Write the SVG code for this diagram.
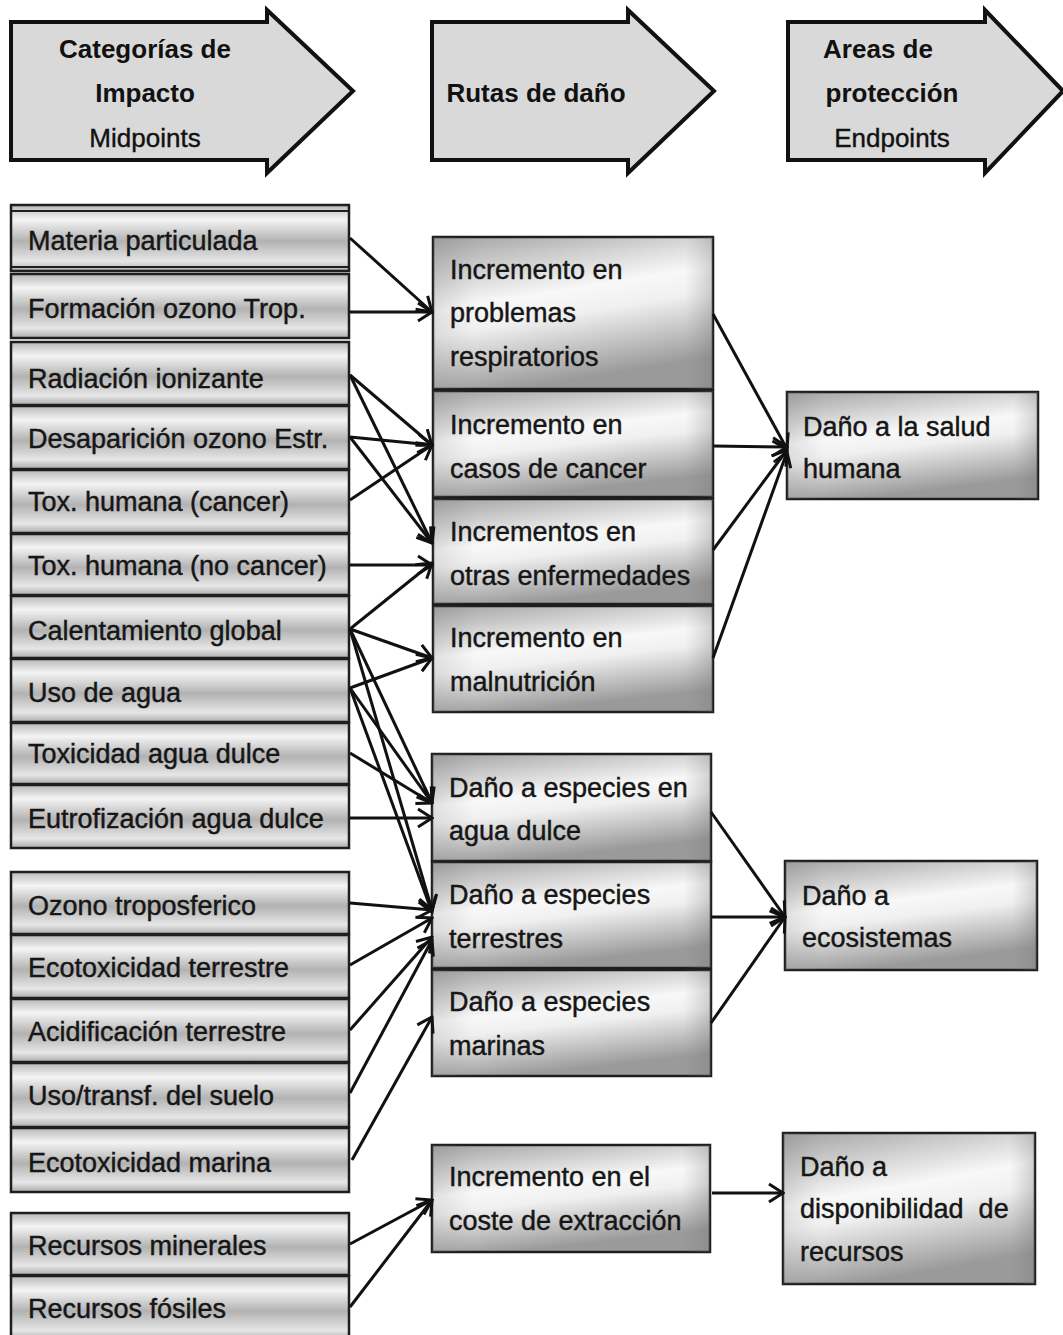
<svg xmlns="http://www.w3.org/2000/svg" width="1063" height="1335" viewBox="0 0 1063 1335">
<defs>
<linearGradient id="gL" x1="0" y1="0" x2="0" y2="1">
<stop offset="0" stop-color="#b8b8b8"/>
<stop offset="0.22" stop-color="#f4f4f4"/>
<stop offset="0.55" stop-color="#b2b2b2"/>
<stop offset="0.85" stop-color="#e6e6e6"/>
<stop offset="1" stop-color="#acacac"/>
</linearGradient>
<linearGradient id="gM" x1="0" y1="0" x2="0.3" y2="1">
<stop offset="0" stop-color="#a2a2a2"/>
<stop offset="0.45" stop-color="#f8f8f8"/>
<stop offset="0.6" stop-color="#f0f0f0"/>
<stop offset="1" stop-color="#9a9a9a"/>
</linearGradient>
<linearGradient id="gEdge" x1="0" y1="0" x2="1" y2="0">
<stop offset="0" stop-color="#808080" stop-opacity="0.2"/>
<stop offset="0.15" stop-color="#808080" stop-opacity="0"/>
<stop offset="0.9" stop-color="#808080" stop-opacity="0"/>
<stop offset="1" stop-color="#707070" stop-opacity="0.3"/>
</linearGradient>
<marker id="ah" markerUnits="userSpaceOnUse" viewBox="0 0 18 22" refX="16" refY="11" markerWidth="18" markerHeight="22" orient="auto">
<path d="M2,2 L16,11 L2,20" fill="none" stroke="#111" stroke-width="3" stroke-linejoin="miter"/>
</marker>
</defs>
<style>
.hd{fill:#d9d9d9;stroke:#111;stroke-width:4;stroke-linejoin:miter}
.bl{fill:url(#gL);stroke:#1e1e1e;stroke-width:2.5}
.bm{fill:url(#gM);stroke:#1e1e1e;stroke-width:2.5}
.ed{fill:url(#gEdge);stroke:none}
.t{font-family:"Liberation Sans",Arial,sans-serif;font-size:27px;fill:#161616;stroke:#161616;stroke-width:0.45}
.tb{font-family:"Liberation Sans",Arial,sans-serif;font-size:26px;font-weight:bold;fill:#111;text-anchor:middle}
.th{font-family:"Liberation Sans",Arial,sans-serif;font-size:26px;fill:#111;stroke:#111;stroke-width:0.4;text-anchor:middle}
.c{fill:none;stroke:#111;stroke-width:3;marker-end:url(#ah)}
</style>
<rect width="1063" height="1335" fill="#ffffff"/>

<g id="head1">
<polygon class="hd" points="11,22 267,22 267,10 353,91 267,173 267,160 11,160"/>
<text class="tb" x="145" y="58">Categorías de</text>
<text class="tb" x="145" y="102">Impacto</text>
<text class="th" x="145" y="147">Midpoints</text>
</g>
<g id="head2">
<polygon class="hd" points="432,22 628,22 628,10 714,91 628,173 628,160 432,160"/>
<text class="tb" x="536" y="102">Rutas de daño</text>
</g>
<g id="head3">
<polygon class="hd" points="788,22 985,22 985,10 1063,91 985,173 985,160 788,160"/>
<text class="tb" x="878" y="58">Areas de</text>
<text class="tb" x="892" y="102">protección</text>
<text class="th" x="892" y="147">Endpoints</text>
</g>

<g id="L1"><rect class="bl" x="11" y="205" width="338" height="66"/><line x1="11" y1="211" x2="349" y2="211" stroke="#1e1e1e" stroke-width="2"/><line x1="11" y1="267" x2="349" y2="267" stroke="#1e1e1e" stroke-width="2"/><text class="t" x="28" y="250">Materia particulada</text></g>
<g id="L2"><rect class="bl" x="11" y="274" width="338" height="64"/><text class="t" x="28" y="318">Formación ozono Trop.</text></g>
<g id="L3"><rect class="bl" x="11" y="342" width="338" height="63"/><text class="t" x="28" y="388">Radiación ionizante</text></g>
<g id="L4"><rect class="bl" x="11" y="406" width="338" height="63"/><text class="t" x="28" y="448">Desaparición ozono Estr.</text></g>
<g id="L5"><rect class="bl" x="11" y="470" width="338" height="63"/><text class="t" x="28" y="511">Tox. humana (cancer)</text></g>
<g id="L6"><rect class="bl" x="11" y="534" width="338" height="61"/><text class="t" x="28" y="575">Tox. humana (no cancer)</text></g>
<g id="L7"><rect class="bl" x="11" y="596" width="338" height="62"/><text class="t" x="28" y="640">Calentamiento global</text></g>
<g id="L8"><rect class="bl" x="11" y="659" width="338" height="63"/><text class="t" x="28" y="702">Uso de agua</text></g>
<g id="L9"><rect class="bl" x="11" y="723" width="338" height="61"/><text class="t" x="28" y="763">Toxicidad agua dulce</text></g>
<g id="L10"><rect class="bl" x="11" y="785" width="338" height="63"/><text class="t" x="28" y="828">Eutrofización agua dulce</text></g>
<g id="L11"><rect class="bl" x="11" y="872" width="338" height="62"/><text class="t" x="28" y="915">Ozono troposferico</text></g>
<g id="L12"><rect class="bl" x="11" y="935" width="338" height="63"/><text class="t" x="28" y="977">Ecotoxicidad terrestre</text></g>
<g id="L13"><rect class="bl" x="11" y="999" width="338" height="63"/><text class="t" x="28" y="1041">Acidificación terrestre</text></g>
<g id="L14"><rect class="bl" x="11" y="1063" width="338" height="64"/><text class="t" x="28" y="1105">Uso/transf. del suelo</text></g>
<g id="L15"><rect class="bl" x="11" y="1128" width="338" height="64"/><text class="t" x="28" y="1172">Ecotoxicidad marina</text></g>
<g id="L16"><rect class="bl" x="11" y="1213" width="338" height="62"/><text class="t" x="28" y="1255">Recursos minerales</text></g>
<g id="L17"><rect class="bl" x="11" y="1276" width="338" height="64"/><text class="t" x="28" y="1318">Recursos fósiles</text></g>

<g id="M1"><rect class="bm" x="433" y="237" width="280" height="152"/><rect class="ed" x="433" y="237" width="280" height="152"/><text class="t" x="450" y="279">Incremento en</text><text class="t" x="450" y="322">problemas</text><text class="t" x="450" y="366">respiratorios</text></g>
<g id="M2"><rect class="bm" x="433" y="391" width="280" height="106"/><rect class="ed" x="433" y="391" width="280" height="106"/><text class="t" x="450" y="434">Incremento en</text><text class="t" x="450" y="478">casos de cancer</text></g>
<g id="M3"><rect class="bm" x="433" y="499" width="280" height="105"/><rect class="ed" x="433" y="499" width="280" height="105"/><text class="t" x="450" y="541">Incrementos en</text><text class="t" x="450" y="585">otras enfermedades</text></g>
<g id="M4"><rect class="bm" x="433" y="606" width="280" height="106"/><rect class="ed" x="433" y="606" width="280" height="106"/><text class="t" x="450" y="647">Incremento en</text><text class="t" x="450" y="691">malnutrición</text></g>
<g id="M5"><rect class="bm" x="432" y="754" width="279" height="107"/><rect class="ed" x="432" y="754" width="279" height="107"/><text class="t" x="449" y="797">Daño a especies en</text><text class="t" x="449" y="840">agua dulce</text></g>
<g id="M6"><rect class="bm" x="432" y="862" width="279" height="106"/><rect class="ed" x="432" y="862" width="279" height="106"/><text class="t" x="449" y="904">Daño a especies</text><text class="t" x="449" y="948">terrestres</text></g>
<g id="M7"><rect class="bm" x="432" y="970" width="279" height="106"/><rect class="ed" x="432" y="970" width="279" height="106"/><text class="t" x="449" y="1011">Daño a especies</text><text class="t" x="449" y="1055">marinas</text></g>
<g id="M8"><rect class="bm" x="432" y="1145" width="278" height="107"/><rect class="ed" x="432" y="1145" width="278" height="107"/><text class="t" x="449" y="1186">Incremento en el</text><text class="t" x="449" y="1230">coste de extracción</text></g>

<g id="R1"><rect class="bm" x="787" y="392" width="251" height="107"/><rect class="ed" x="787" y="392" width="251" height="107"/><text class="t" x="803" y="436">Daño a la salud</text><text class="t" x="803" y="478">humana</text></g>
<g id="R2"><rect class="bm" x="785" y="861" width="252" height="109"/><rect class="ed" x="785" y="861" width="252" height="109"/><text class="t" x="802" y="905">Daño a</text><text class="t" x="802" y="947">ecosistemas</text></g>
<g id="R3"><rect class="bm" x="783" y="1133" width="252" height="151"/><rect class="ed" x="783" y="1133" width="252" height="151"/><text class="t" x="800" y="1176">Daño a</text><text class="t" x="800" y="1218" xml:space="preserve">disponibilidad  de</text><text class="t" x="800" y="1261">recursos</text></g>

<g id="connectors">
<line class="c" x1="350" y1="238" x2="432" y2="312"/>
<line class="c" x1="350" y1="312" x2="432" y2="312"/>
<line class="c" x1="350" y1="375" x2="432" y2="445"/>
<line class="c" x1="350" y1="375" x2="432" y2="543"/>
<line class="c" x1="350" y1="437" x2="432" y2="445"/>
<line class="c" x1="350" y1="437" x2="432" y2="543"/>
<line class="c" x1="350" y1="500" x2="432" y2="445"/>
<line class="c" x1="350" y1="565" x2="432" y2="565"/>
<line class="c" x1="350" y1="629" x2="432" y2="563"/>
<line class="c" x1="350" y1="629" x2="432" y2="658"/>
<line class="c" x1="350" y1="629" x2="432" y2="803"/>
<line class="c" x1="350" y1="629" x2="432" y2="910"/>
<line class="c" x1="350" y1="688" x2="432" y2="658"/>
<line class="c" x1="350" y1="688" x2="432" y2="803"/>
<line class="c" x1="350" y1="688" x2="432" y2="912"/>
<line class="c" x1="350" y1="753" x2="432" y2="803"/>
<line class="c" x1="350" y1="818" x2="432" y2="818"/>
<line class="c" x1="350" y1="903" x2="432" y2="910"/>
<line class="c" x1="350" y1="965" x2="432" y2="918"/>
<line class="c" x1="350" y1="1030" x2="432" y2="937"/>
<line class="c" x1="350" y1="1093" x2="432" y2="940"/>
<line class="c" x1="352" y1="1160" x2="432" y2="1017"/>
<line class="c" x1="350" y1="1244" x2="432" y2="1200"/>
<line class="c" x1="350" y1="1307" x2="432" y2="1200"/>
<line class="c" x1="713" y1="314" x2="787" y2="449"/>
<line class="c" x1="713" y1="446" x2="787" y2="447"/>
<line class="c" x1="713" y1="550" x2="787" y2="450"/>
<line class="c" x1="713" y1="658" x2="787" y2="452"/>
<line class="c" x1="711" y1="812" x2="785" y2="917"/>
<line class="c" x1="711" y1="917" x2="785" y2="917"/>
<line class="c" x1="711" y1="1023" x2="785" y2="917"/>
<line class="c" x1="712" y1="1193" x2="783" y2="1193"/>
</g>
</svg>
